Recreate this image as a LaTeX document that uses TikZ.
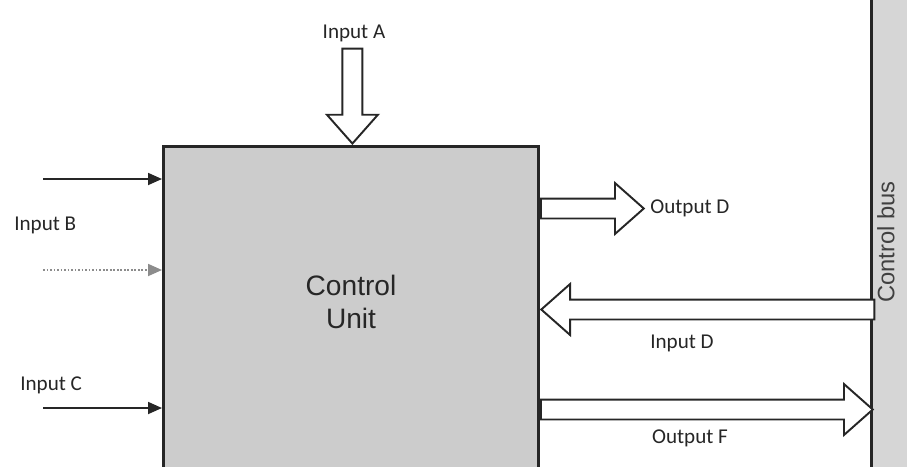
\documentclass[tikz,border=0pt]{standalone}
\usepackage{fontspec}
\setmainfont{Carlito}
\newfontfamily\arialfont{Liberation Sans}
\usepackage{tikz}
\usetikzlibrary{positioning,shapes.arrows,arrows.meta,calc}

\begin{document}
\begin{tikzpicture}[
    label/.style={font=\fontsize{12}{14}\selectfont, text=black!85, inner sep=0pt},
    hollow/.style={single arrow, draw=black!85, line width=1.1pt, fill=white,
        inner sep=0.18cm, minimum width=0pt,
        single arrow head extend=0.31cm, single arrow tip angle=83},
    arrow/.style={-{Triangle[length=2.8mm,width=2.4mm]}, line width=1pt, black!85},
    >=Stealth
]
\useasboundingbox (0,0) rectangle (18.14,-9.32);

% Control unit box
\node[draw=black!85, line width=1.6pt, fill=black!20, minimum width=7.5cm, minimum height=6.8cm,
      anchor=north west, inner sep=0pt] (cu) at (3.24,-2.9) {};
\node[font=\arialfont\fontsize{16}{19}\selectfont, align=center, text=black!85] (cutxt) at (7.02,-6.04) {Control\\Unit};

% Control bus on the right
\node[fill=black!16, minimum width=0.8cm, minimum height=9.6cm, anchor=north west, inner sep=0pt] (bus) at (17.43,0.1) {};
\draw[line width=1.3pt, black!85] (bus.north west) -- (bus.south west);
\node[font=\arialfont\fontsize{13.5}{16}\selectfont, rotate=90, text=black!75] (bustxt) at (17.72,-4.84) {Control bus};

% Input A from above
\node[hollow, shape border rotate=270, minimum height=1.9cm, anchor=tip] (inA) at ($(cu.north)+(0.03,0)$) {};
\node[label] (inAtxt) at (7.08,-0.66) {Input A};

% Inputs B and C from the left
\coordinate (b1) at (0.86,-3.58);
\coordinate (b2) at (0.86,-5.4);
\coordinate (c1) at (0.86,-8.16);
\draw[arrow] (b1) -- (b1 -| cu.west);
\draw[arrow, densely dotted, black!45] (b2) -- (b2 -| cu.west);
\draw[arrow] (c1) -- (c1 -| cu.west);
\node[label, anchor=west] (inBtxt) at (0.28,-4.5) {Input B};
\node[label, anchor=west] (inCtxt) at (0.4,-7.7) {Input C};

% Outputs and bus connections on the right
\node[hollow, minimum height=2.06cm, anchor=tail] (outD) at (cu.east |- 0,-4.17) {};
\node[label, anchor=west] (outDtxt) at (13.0,-4.16) {Output D};

\node[hollow, shape border rotate=180, minimum height=6.66cm, anchor=tip] (inD) at (cu.east |- 0,-6.19) {};
\node[label] (inDtxt) at (13.64,-6.86) {Input D};

\node[hollow, minimum height=6.64cm, anchor=tail] (outF) at (cu.east |- 0,-8.19) {};
\node[label] (outFtxt) at (13.8,-8.76) {Output F};

\end{tikzpicture}
\end{document}
